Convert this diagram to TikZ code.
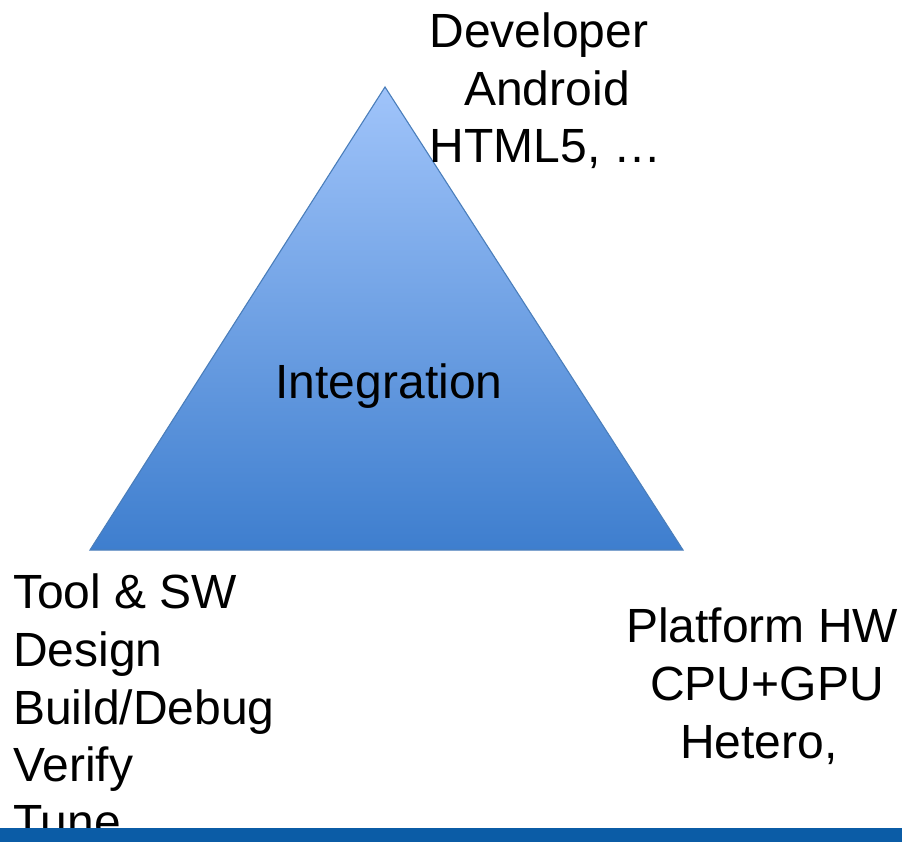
\documentclass[tikz,border=0pt]{standalone}
\usepackage{fontspec}
\setmainfont{Liberation Sans}
\usetikzlibrary{positioning}
\definecolor{tritop}{RGB}{160,196,250}
\definecolor{tribot}{RGB}{62,126,206}
\definecolor{triedge}{RGB}{74,126,187}
\definecolor{barblue}{RGB}{11,92,166}

\begin{document}
\begin{tikzpicture}[x=1pt,y=-1pt]
	\def \rowtopa{48}
	\def \rowtopb{106}
	\def \rowtopc{163}
	\def \rowmid{398}
	\def \baseht{550}
	\tikzstyle{tri}=[draw=triedge,line width=1.1pt,top color=tritop,bottom color=tribot]
	\tikzstyle{c-lbl}=[anchor=base,inner sep=0pt,font=\fontsize{48}{58}\selectfont]
	\tikzstyle{l-lbl}=[c-lbl,anchor=base west]
	\useasboundingbox (0,0) rectangle (902,842);

	% pyramid
	\coordinate (apex) at (385,87);
	\coordinate (left) at (90,\baseht);
	\coordinate (right) at (683,\baseht);
	\path[tri] (apex) -- (left) -- (right) -- cycle;
	\node[c-lbl] (mid0) at (389,\rowmid) {Integration};

	% developer corner
	\node[c-lbl] (top0) at (539,\rowtopa) {Developer};
	\node[c-lbl] (top1) at (547,\rowtopb) {Android};
	\node[c-lbl] (top2) at (546,\rowtopc) {HTML5, …};

	% tool corner
	\node[l-lbl] (tool0) at (13,608) {Tool \& SW};
	\node[l-lbl] (tool1) at (13,666) {Design};
	\node[l-lbl] (tool2) at (13,724) {Build/Debug};
	\node[l-lbl] (tool3) at (13,781) {Verify};
	\node[l-lbl] (tool4) at (13,838) {Tune};

	% platform corner
	\node[c-lbl] (hw0) at (762,642) {Platform HW};
	\node[c-lbl] (hw1) at (767,700) {CPU+GPU};
	\node[c-lbl] (hw2) at (759,758) {Hetero,};

	% footer bar
	\fill[barblue] (0,828) rectangle (902,842);
\end{tikzpicture}
\end{document}
